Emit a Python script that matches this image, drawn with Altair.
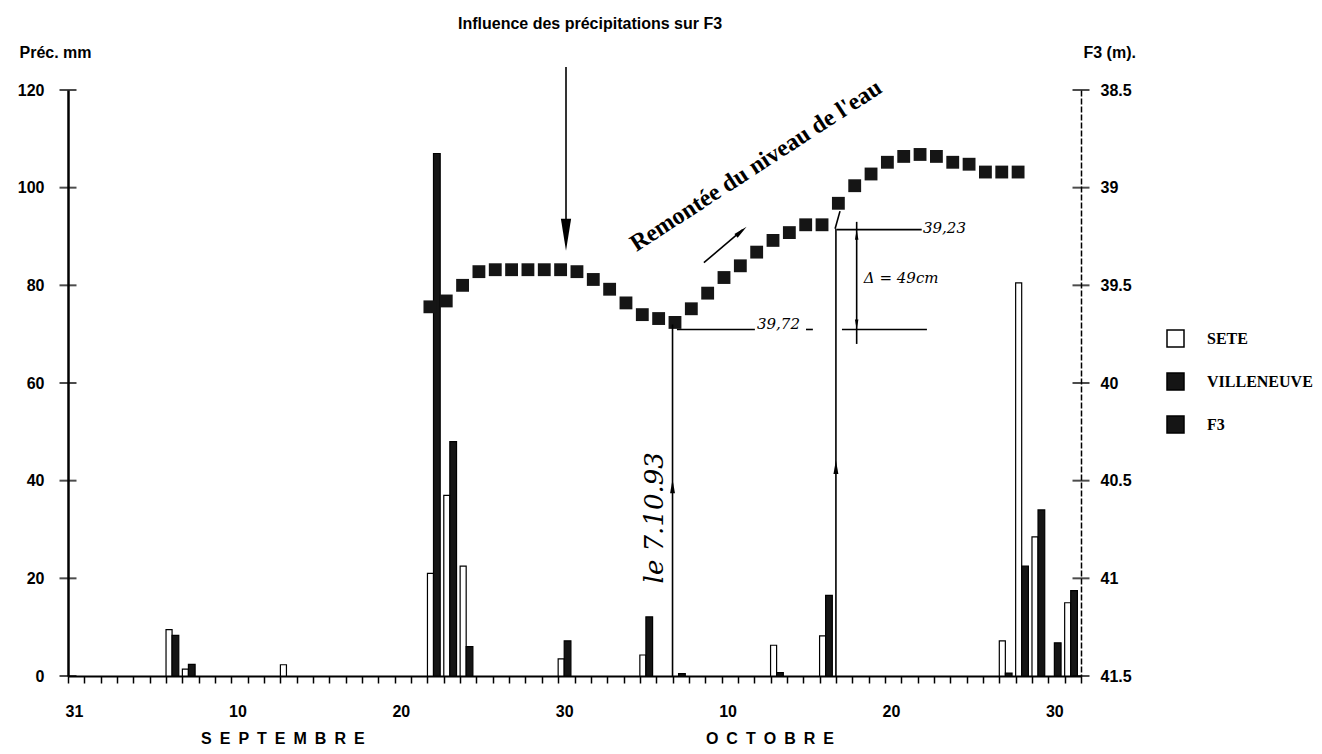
import altair as alt
import pandas as pd

# ---------------- data ----------------
# day index: 0 = 31 August, 30 = 30 September, 60 = 30 October
rain_days = [6, 7, 13, 22, 23, 24, 30, 35, 37, 43, 46, 57, 58, 59, 60, 61]
sete_mm = [9.5, 1.4, 2.3, 21.0, 37.0, 22.5, 3.5, 4.3, 0.0, 6.3, 8.2, 7.2, 80.5, 28.5, 0.0, 15.0]
villeneuve_mm = [8.3, 2.4, 0.0, 107.0, 48.0, 6.0, 7.2, 12.1, 0.5, 0.7, 16.5, 0.6, 22.5, 34.0, 6.8, 17.5]

f3_days = list(range(22, 59))
f3_level = [39.61, 39.58, 39.50, 39.43, 39.42, 39.42, 39.42, 39.42, 39.42, 39.43,
            39.47, 39.52, 39.59, 39.65, 39.67, 39.69, 39.62, 39.54, 39.46, 39.40,
            39.33, 39.27, 39.23, 39.19, 39.19, 39.08, 38.99, 38.93, 38.87, 38.84,
            38.83, 38.84, 38.87, 38.88, 38.92, 38.92, 38.92]

series_names = ["SETE", "VILLENEUVE", "F3"]
tick_days = [0, 10, 20, 30, 40, 50, 60]
tick_labels = ["31", "10", "20", "30", "10", "20", "30"]
month_names = ["SEPTEMBRE", "OCTOBRE"]
month_days = [13.15, 42.96]
prec_ticks = [0, 20, 40, 60, 80, 100, 120]
level_ticks = [38.5, 39.0, 39.5, 40.0, 40.5, 41.0, 41.5]

# annotation segments (day, level) -> (day, level)
seg_x1 = [30.48, 37.0, 47.0, 37.27, 45.17, 47.37, 47.04, 48.27, 38.92, 46.95]
seg_y1 = [38.382, 39.70, 39.21, 39.726, 39.726, 39.726, 39.215, 39.175, 39.384, 39.21]
seg_x2 = [30.48, 37.0, 47.0, 42.04, 45.59, 52.57, 52.25, 48.27, 41.30, 47.25]
seg_y2 = [39.25, 41.5, 41.5, 39.726, 39.726, 39.726, 39.215, 39.80, 39.215, 39.12]

big_head_x = [30.48]
big_head_y = [39.241]
head_x = [37.0, 47.0, 41.21]
head_y = [40.529, 40.43, 39.223]
head_dir = [0, 0, 49]
dhead_x = [48.27, 48.27]
dhead_y = [39.241, 39.70]
dhead_dir = [0, 180]

hand_texts = ["39,72", "39,23", "\u0394 = 49cm"]
hand_x = [42.17, 52.33, 48.71]
hand_y = [39.70, 39.205, 39.46]
note_text = ["le 7.10.93"]
note_x = [35.92]
note_y = [40.69]
rise_text = ["Remont\u00e9e du niveau de l'eau"]
rise_x = [42.35]
rise_y = [38.919]

# ---------------- tables ----------------
rows = []
for d, s, v in zip(rain_days, sete_mm, villeneuve_mm):
    if s > 0:
        rows.append({"day": d, "series": "SETE", "value": s})
    if v > 0:
        rows.append({"day": d, "series": "VILLENEUVE", "value": v})
bars_df = pd.DataFrame(rows)
f3_df = pd.DataFrame({"day": f3_days, "level": f3_level, "series": "F3"})
seg_df = pd.DataFrame({"x1": seg_x1, "y1": seg_y1, "x2": seg_x2, "y2": seg_y2})

SANS = "Liberation Sans, Arial, sans-serif"
SERIF = "Liberation Serif, Times New Roman, serif"
HAND = "DejaVu Serif, serif"

X = alt.Scale(domain=[0, 62], nice=False, zero=False)
YP = alt.Scale(domain=[0, 120], nice=False, zero=False)
YF = alt.Scale(domain=[38.5, 41.5], reverse=True, nice=False, zero=False)
color_scale = alt.Scale(domain=series_names, range=["white", "#151515", "#151515"])


def label_expr(days, labels):
    expr = "''"
    for d, l in reversed(list(zip(days, labels))):
        expr = f"datum.value == {d} ? '{l}' : ({expr})"
    return expr


x_axis = alt.Axis(
    values=list(range(0, 63)), labelExpr=label_expr(tick_days, tick_labels),
    labelOverlap=False, tickSize=7, tickWidth=1.5, tickColor="black",
    labelPadding=20, labelOffset=6, labelFont=SANS, labelFontSize=16,
    labelFontWeight="bold", labelColor="black", domainColor="black",
    domainWidth=2, grid=False, title="", labelFlush=False,
)
left_axis = alt.Axis(
    orient="left", values=prec_ticks, ticks=False, labelPadding=24,
    labelFont=SANS, labelFontSize=16, labelFontWeight="bold", labelColor="black",
    domainColor="black", domainWidth=2.5, grid=False,
    title="Pr\u00e9c. mm", titleAngle=0, titleX=-49, titleY=-38,
    titleAlign="left", titleBaseline="middle", titleFont=SANS,
    titleFontSize=16, titleFontWeight="bold", titleColor="black",
)
right_axis = alt.Axis(
    orient="right", values=level_ticks, format=".1~f", ticks=False,
    labelPadding=19, labelFont=SANS, labelFontSize=16, labelFontWeight="bold",
    labelColor="black", domainColor="black", domainWidth=1.5, domainDash=[6, 2],
    grid=False, title="F3 (m).", titleAngle=0, titleX=2, titleY=-38,
    titleAlign="left", titleBaseline="middle", titleFont=SANS,
    titleFontSize=16, titleFontWeight="bold", titleColor="black",
)
legend = alt.Legend(
    title=None, orient="none", legendX=1098, legendY=239, padding=0,
    symbolType="square", symbolSize=289, symbolStrokeColor="black",
    symbolStrokeWidth=1.5, labelFont=SERIF, labelFontSize=16,
    labelFontWeight="bold", labelColor="black", labelOffset=22, rowPadding=20,
)


def xenc(field):
    return alt.X(field, scale=X, axis=x_axis)


def ypenc(field):
    return alt.Y(field, scale=YP, axis=left_axis)


def yfenc(field):
    return alt.Y(field, scale=YF, axis=right_axis)


# ---------------- left (precipitation) group ----------------
bars = alt.Chart(bars_df).transform_calculate(
    x0="datum.day + (datum.series === 'SETE' ? 0 : 0.37)",
    x1="datum.day + (datum.series === 'SETE' ? 0.37 : 0.78)",
    base="0",
).mark_bar(stroke="black", strokeWidth=1.2).encode(
    x=xenc("x0:Q"),
    x2="x1:Q",
    y=ypenc("value:Q"),
    y2="base:Q",
    color=alt.Color("series:N", scale=color_scale, legend=legend),
)
left_ticks = alt.Chart(pd.DataFrame({"v": prec_ticks})).transform_calculate(
    d="0"
).mark_tick(orient="horizontal", size=17, thickness=2, color="black").encode(
    x=xenc("d:Q"),
    y=ypenc("v:Q"),
)
left_group = alt.layer(bars, left_ticks)

# ---------------- right (F3 level) group ----------------
f3_pts = alt.Chart(f3_df).transform_calculate(
    xc="datum.day + 0.15"
).mark_square(size=165, opacity=1).encode(
    x=xenc("xc:Q"),
    y=yfenc("level:Q"),
    color=alt.Color("series:N", scale=color_scale, legend=legend),
)
right_ticks = alt.Chart(pd.DataFrame({"v": level_ticks})).transform_calculate(
    d="62"
).mark_tick(orient="horizontal", size=17, thickness=2, color="black").encode(
    x=xenc("d:Q"),
    y=yfenc("v:Q"),
)
segs = alt.Chart(seg_df).mark_rule(color="black", strokeWidth=1.6).encode(
    x=xenc("x1:Q"),
    y=yfenc("y1:Q"),
    x2="x2:Q",
    y2="y2:Q",
)
ARROW = "M0,-1L0.35,1L-0.35,1Z"
big_head = alt.Chart(pd.DataFrame({"x": big_head_x, "y": big_head_y})).mark_point(
    shape="M-0.32,-1L0.32,-1L0,1Z", filled=True, size=1024, color="black", opacity=1
).encode(
    x=xenc("x:Q"),
    y=yfenc("y:Q"),
)
heads = alt.Chart(pd.DataFrame({"x": head_x, "y": head_y, "a": head_dir})).mark_point(
    shape=ARROW, filled=True, size=196, color="black", opacity=1
).encode(
    x=xenc("x:Q"),
    y=yfenc("y:Q"),
    angle=alt.Angle("a:Q", scale=None),
)
dheads = alt.Chart(pd.DataFrame({"x": dhead_x, "y": dhead_y, "a": dhead_dir})).mark_point(
    shape=ARROW, filled=True, size=100, color="black", opacity=1
).encode(
    x=xenc("x:Q"),
    y=yfenc("y:Q"),
    angle=alt.Angle("a:Q", scale=None),
)
hand = alt.Chart(pd.DataFrame({"x": hand_x, "y": hand_y, "t": hand_texts})).mark_text(
    align="left", baseline="middle", font=HAND, fontStyle="italic",
    fontSize=15, color="black",
).encode(
    x=xenc("x:Q"),
    y=yfenc("y:Q"),
    text="t:N",
)
note = alt.Chart(pd.DataFrame({"x": note_x, "y": note_y, "t": note_text})).mark_text(
    align="center", baseline="middle", angle=270, font=HAND, fontStyle="italic",
    fontSize=26, color="black",
).encode(
    x=xenc("x:Q"),
    y=yfenc("y:Q"),
    text="t:N",
)
rise = alt.Chart(pd.DataFrame({"x": rise_x, "y": rise_y, "t": rise_text})).mark_text(
    align="center", baseline="alphabetic", angle=327, font=SERIF,
    fontWeight="bold", fontSize=24, color="black",
).encode(
    x=xenc("x:Q"),
    y=yfenc("y:Q"),
    text="t:N",
)
months = alt.Chart(pd.DataFrame({
    "x": month_days, "t": ["\u2002".join(m) for m in month_names]
})).mark_text(
    align="center", baseline="middle", font=SANS, fontWeight="bold",
    fontSize=16, color="black",
).encode(
    x=xenc("x:Q"),
    y=alt.value(649),
    text="t:N",
)
right_group = alt.layer(f3_pts, right_ticks, segs, big_head, heads, dheads,
                        hand, note, rise, months)

chart = alt.layer(left_group, right_group).resolve_scale(
    y="independent"
).properties(
    width=1013,
    height=586,
    title=alt.TitleParams(
        text="Influence des pr\u00e9cipitations sur F3", anchor="start",
        frame="group", dx=390, offset=12, font=SANS, fontSize=16,
        fontWeight="bold", color="black",
    ),
    padding={"left": 60, "top": 82, "right": 233, "bottom": 70},
    autosize=alt.AutoSizeParams(type="none"),
    background="white",
).configure_view(stroke="transparent")

chart.save("out.html", embed_options={"renderer": "svg", "actions": False})
